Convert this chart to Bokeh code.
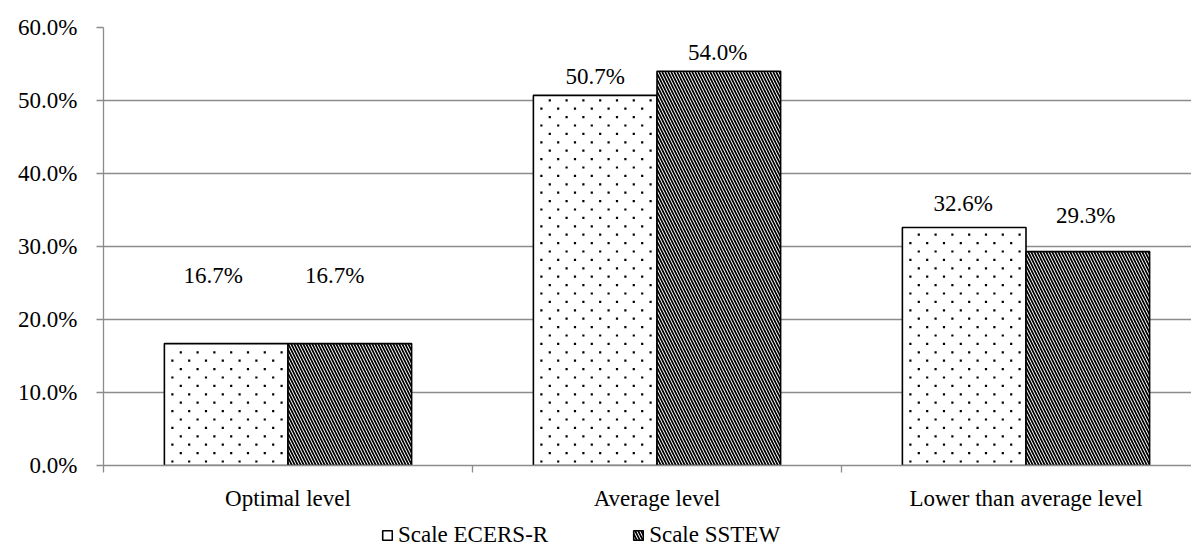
import numpy as np
from bokeh.plotting import figure
from bokeh.layouts import column
from bokeh.models import (Range1d, FixedTicker, PrintfTickFormatter, Legend, LegendItem,
                          ColumnDataSource)
from bokeh.core.properties import value
from bokeh.embed import file_html
from bokeh.resources import INLINE

categories = ["Optimal level", "Average level", "Lower than average level"]
ecers = [16.7, 50.7, 32.6]
sstew = [16.7, 54.0, 29.3]
series_names = ["Scale ECERS-R", "Scale SSTEW"]
y_ticks = [0, 10, 20, 30, 40, 50, 60]

# label placement offsets (pixels) mimicking the original label positions
ecers_dx = [-13, 0, -1]
ecers_dy = [-68, -19, -24]
sstew_dx = [-15, -1, -2]
sstew_dy = [-68, -19, -36]

FONT = "Liberation Serif"
FS = "23px"
n = len(categories)
centers = [i + 0.5 for i in range(n)]
bw = 0.335
FW, FH = 1088, 438
X_END = FW / 369
Y_END = 60

BAR_E = dict(fill_color="white", line_color="black", line_width=1.6)
BAR_S = dict(fill_color="white", line_color="black", line_width=1.6, hatch_pattern="\\",
             hatch_scale=6, hatch_color="black", hatch_weight=1.7)

p = figure(frame_width=FW, frame_height=FH, output_backend="svg", toolbar_location=None,
           x_range=Range1d(0, X_END), y_range=Range1d(0, Y_END),
           min_border_left=103, min_border_right=0, min_border_top=27, min_border_bottom=50)
p.outline_line_color = None
p.background_fill_color = "white"

src_e = ColumnDataSource(dict(x=[c - bw / 2 for c in centers], top=ecers,
                              lab=[f"{v:.1f}%" for v in ecers], dx=ecers_dx, dy=ecers_dy))
src_s = ColumnDataSource(dict(x=[c + bw / 2 for c in centers], top=sstew,
                              lab=[f"{v:.1f}%" for v in sstew], dx=sstew_dx, dy=sstew_dy))

p.vbar(x="x", top="top", width=bw, bottom=0, source=src_e, **BAR_E)
p.vbar(x="x", top="top", width=bw, bottom=0, source=src_s, **BAR_S)

# dotted fill texture for the ECERS-R bars (staggered dot pattern, derived from bar extents)
ux = X_END / FW
uy = Y_END / FH
dx_list, dy_list = [], []
for c, top in zip(centers, ecers):
    left, right = c - bw, c
    j = 0
    y = 4 * uy
    while y < top - 3 * uy:
        shift = 8.4 * ux if j % 2 else 0.0
        xs = np.arange(left + 8 * ux + shift, right - 3 * ux, 16.8 * ux)
        dx_list.extend(xs.tolist())
        dy_list.extend([y] * len(xs))
        j += 1
        y += 8.4 * uy
p.scatter(x=dx_list, y=dy_list, marker="square", size=2.2, fill_color="black",
          line_color=None)

for src in (src_e, src_s):
    p.text(x="x", y="top", text="lab", x_offset="dx", y_offset="dy", source=src,
           text_font=value(FONT), text_font_size=FS, text_align="center",
           text_baseline="middle", text_color="black")

p.xgrid.visible = False
p.ygrid.grid_line_color = "#8c8c8c"
p.ygrid.grid_line_width = 1.3
p.ygrid.ticker = FixedTicker(ticks=y_ticks)

yax = p.yaxis[0]
yax.ticker = FixedTicker(ticks=y_ticks)
yax.formatter = PrintfTickFormatter(format="%.1f%%")
yax.axis_line_color = "#8c8c8c"
yax.axis_line_width = 1.3
yax.major_tick_line_color = "#8c8c8c"
yax.major_tick_line_width = 1.3
yax.major_tick_out = 7
yax.major_tick_in = 0
yax.minor_tick_line_color = None
yax.major_label_standoff = 19
yax.major_label_text_font = FONT
yax.major_label_text_font_size = FS
yax.major_label_text_color = "black"

xax = p.xaxis[0]
xax.ticker = FixedTicker(ticks=centers, minor_ticks=list(range(n + 1)))
xax.major_label_overrides = {c: categories[i] for i, c in enumerate(centers)}
xax.axis_line_color = "#8c8c8c"
xax.axis_line_width = 1.3
xax.major_tick_line_color = None
xax.minor_tick_line_color = "#8c8c8c"
xax.minor_tick_line_width = 1.3
xax.minor_tick_out = 7
xax.minor_tick_in = 0
xax.major_label_standoff = 13
xax.major_label_text_font = FONT
xax.major_label_text_font_size = FS
xax.major_label_text_color = "black"

# legend strip below the chart (swatches use hidden proxy renderers with the same styles)
lg = figure(frame_width=1191, frame_height=34, output_backend="svg", toolbar_location=None,
            x_axis_location=None, y_axis_location=None, x_range=Range1d(0, 1), y_range=Range1d(0, 1),
            min_border=0)
lg.outline_line_color = None
lg.grid.visible = False
proxy = dict(x=[0.5], top=[1])
l1 = lg.vbar(x="x", top="top", width=0.1, bottom=0, source=ColumnDataSource(proxy), **BAR_E)
l2 = lg.vbar(x="x", top="top", width=0.1, bottom=0, source=ColumnDataSource(proxy), **BAR_S)
l1.visible = False
l2.visible = False
legend = Legend(items=[LegendItem(label=series_names[0], renderers=[l1]),
                       LegendItem(label=series_names[1], renderers=[l2])],
                orientation="horizontal", location=(381, 1),
                label_text_font=FONT, label_text_font_size=FS, label_text_color="black",
                glyph_width=12, glyph_height=12, label_standoff=5, spacing=84,
                border_line_color=None, background_fill_alpha=0, margin=0, padding=2,
                inactive_fill_alpha=0)
lg.add_layout(legend)

layout = column(p, lg, spacing=0)
open("out.html", "w").write(file_html(layout, INLINE))
